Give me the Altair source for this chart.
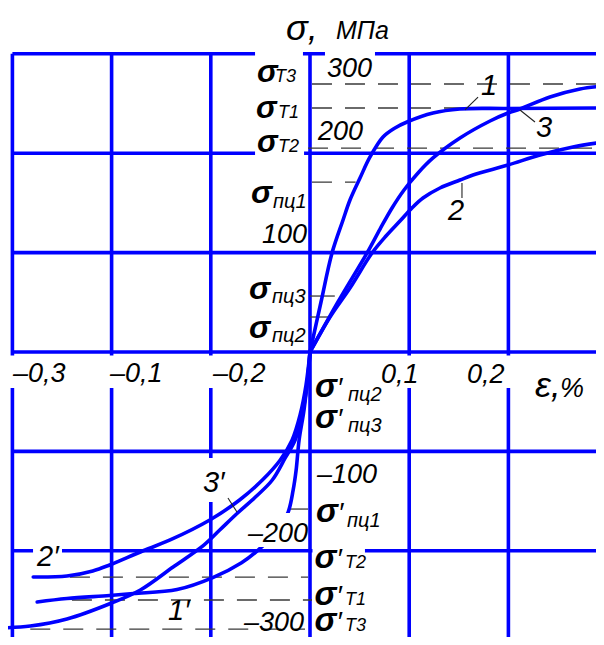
import altair as alt
import pandas as pd

BLUE = "#0000FF"
FONT = "Liberation Sans"

# ---------------- data (strain, % ; stress, MPa) ----------------
eps_1 = [0, 0.0111, 0.0222, 0.0333, 0.0403, 0.0504, 0.0605, 0.0736, 0.0857, 0.0978, 0.124, 0.151, 0.1996, 0.2964]
sig_1 = [0, 50.3, 99.6, 132.8, 152.9, 175, 196.2, 216.3, 225.4, 231.4, 240.4, 244.5, 245, 245.5]

eps_3 = [0, 0.0282, 0.0575, 0.0706, 0.0827, 0.0948, 0.1089, 0.124, 0.1512, 0.1815, 0.1996, 0.2117, 0.2419, 0.2722, 0.2964]
sig_3 = [0, 50.3, 99.6, 123.7, 144.9, 163, 180.1, 195.2, 215.3, 232.4, 240.4, 244.5, 256.5, 264.6, 267.6]

eps_2 = [0, 0.0202, 0.0403, 0.0625, 0.0766, 0.0907, 0.1028, 0.1139, 0.131, 0.1512, 0.1643, 0.1996, 0.2319, 0.2651, 0.2964]
sig_2 = [0, 35.2, 64.4, 99.6, 116.7, 131.8, 144.9, 154.9, 165, 173, 178.1, 188.1, 198.2, 206.2, 211.3]

eps_1c = [0, -0.002, -0.006, -0.011, -0.014, -0.017, -0.022, -0.032, -0.052, -0.069, -0.098, -0.134, -0.178, -0.202, -0.245, -0.275]
sig_1c = [0, -23, -58, -88.5, -119, -139, -161, -179, -199, -212, -227, -239, -243, -245, -248, -251.5]

eps_2c = [0, -0.004, -0.010, -0.018, -0.030, -0.048, -0.071, -0.101, -0.141, -0.171, -0.202, -0.219, -0.245, -0.279]
sig_2c = [0, -33.2, -63.4, -88.5, -108.6, -128.8, -148.9, -169, -189.1, -201.2, -214.3, -220.3, -225.4, -226.4]

eps_3c = [0, -0.003, -0.008, -0.015, -0.025, -0.038, -0.055, -0.073, -0.091, -0.107, -0.138, -0.171, -0.200, -0.245, -0.282, -0.3125]
sig_3c = [0, -33.2, -63.4, -88.5, -106.6, -128.8, -145.9, -162, -179.1, -194.2, -216.3, -239.4, -252.5, -268.6, -275.7, -277.7]

grid_eps = [-0.3, -0.2, -0.1, 0.0, 0.1, 0.2]
grid_sig = [300, 200, 100, 0, -100, -200]

# characteristic stress levels (reference lines)
ref_sig = [269.6, 245.5, 205.2, 171, 56.3, 35.2, -158, -226.4, -249.5, -278.7]
ref_from = [0.002, 0.002, -0.002, 0.002, 0, 0, -0.021, -0.242, -0.240, -0.282]
ref_to = [0.2964, 0.2964, 0.2964, 0.046, 0.025, 0.020, -0.002, -0.002, 0.002, -0.005]
ref_dashed = [True, True, True, True, False, False, False, True, True, True]

X_DOM = [-0.30444, 0.28831]
Y_DOM = [-286.72, 346.08]

# ---------------- tables ----------------
rows = []
for name, e, s in [("1", eps_1, sig_1), ("3", eps_3, sig_3), ("2", eps_2, sig_2),
                   ("1c", eps_1c, sig_1c), ("2c", eps_2c, sig_2c), ("3c", eps_3c, sig_3c)]:
    for i, (a, b) in enumerate(zip(e, s)):
        rows.append({"curve": name, "i": i, "eps": a, "sig": b})
curves = pd.DataFrame(rows)

vgrid = pd.DataFrame({"eps": grid_eps, "top": 300, "bottom": -400})
hgrid = pd.DataFrame({"sig": grid_sig, "left": -0.3, "right": 0.4})

refs = pd.DataFrame({"sig": ref_sig, "a": ref_from, "b": ref_to, "dashed": ref_dashed})

# white label backgrounds (x1, x2, y1, y2 in data units)
boxes = pd.DataFrame([
    (-0.0554, -0.0071, 292.7, 305.8),
    (0.0151, 0.0655, 265.6, 305.8),
    (-0.0554, -0.0060, 193.2, 203.2),
    (-0.3044, -0.2117, -36.2, -3.6),
    (-0.2067, -0.1361, -36.2, -3.6),
    (-0.1058, -0.0202, -36.2, -3.6),
    (0.0655, 0.1089, -36.2, -3.6),
    (0.1532, 0.2036, -36.2, -3.6),
    (-0.1109, -0.0847, -150.9, -106.6),
    (-0.2792, -0.2500, -217.3, -189.1),
    (0.0025, 0.0554, -218.3, -194.2),
    (0.1532, 0.1946, 256.5, 284.7),
    (-0.0685, -0.0101, -294.8, -264.6),
    (-0.1452, -0.1210, -271.6, -245.5),
], columns=["x1", "x2", "y1", "y2"])
box_over = pd.DataFrame([(-0.0655, -0.0040, -196.2, -162.0)], columns=["x1", "x2", "y1", "y2"])

leaders = pd.DataFrame([
    (0.1562, 243.5, 0.1694, 256.5),
    (0.2117, 243.5, 0.2268, 231.4),
    (0.1532, 170.0, 0.1532, 154.9),
    (-0.0827, -146.9, -0.0736, -161.0),
], columns=["x1", "y1", "x2", "y2"])

# bold sigma symbols
sig_bold = pd.DataFrame([
    ("σ", -0.0534, 271.6, 31), ("σ", -0.0544, 235.4, 31), ("σ", -0.0534, 201.2, 31),
    ("σ", -0.0595, 149.9, 32), ("σ", -0.0615, 53.3, 32), ("σ", -0.0615, 14.1, 32),
    ("σ", 0.0050, -45.3, 33), ("σ", 0.0050, -76.5, 33), ("σ", 0.0060, -171.0, 33),
    ("σ", 0.0045, -217.3, 33), ("σ", 0.0045, -254.5, 33), ("σ", 0.0045, -280.5, 33),
], columns=["t", "x", "y", "s"])

# thin italic texts
ital = pd.DataFrame([
    ("Т3", -0.0353, 271.6, 18), ("Т1", -0.0323, 235.4, 18), ("Т2", -0.0323, 201.2, 18),
    ("пц1", -0.0373, 144.9, 20), ("пц3", -0.0383, 49.3, 20), ("пц2", -0.0383, 10.1, 20),
    ("пц2", 0.0383, -49.3, 20), ("пц3", 0.0383, -80.5, 20), ("пц1", 0.0373, -176.0, 20),
    ("Т2", 0.0353, -217.3, 18), ("Т1", 0.0353, -254.5, 18), ("Т3", 0.0353, -280.5, 18),
    ("′", 0.0272, -45.3, 28), ("′", 0.0272, -76.5, 28), ("′", 0.0282, -171.0, 28),
    ("′", 0.0267, -217.3, 28), ("′", 0.0267, -254.5, 28), ("′", 0.0267, -280.5, 28),
    ("300", 0.0171, 276.7, 27), ("200", 0.0081, 213.3, 27), ("100", -0.0484, 109.7, 27),
    ("–0,3", -0.2994, -30.2, 27), ("–0,1", -0.2016, -30.2, 27), ("–0,2", -0.0978, -30.2, 27),
    ("0,1", 0.0716, -31.2, 27), ("0,2", 0.1583, -31.2, 27),
    ("–100", 0.0071, -131.8, 27), ("–200", -0.0625, -191.1, 27), ("–300", -0.0665, -281.0, 27),
    ("1", 0.1724, 258.5, 29), ("3", 0.2278, 216.3, 29), ("2", 0.1391, 132.8, 29),
    ("1′", -0.1431, -269.6, 29), ("2′", -0.2752, -215.3, 29), ("3′", -0.1079, -140.8, 29),
    ("МПа", 0.0262, 315.0, 25), ("%", 0.2520, -45.3, 27),
], columns=["t", "x", "y", "s"])

plain = pd.DataFrame([
    ("σ,", -0.0242, 313.5, 36), ("ε,", 0.2268, -45.3, 36),
], columns=["t", "x", "y", "s"])

xs = alt.Scale(domain=X_DOM, nice=False, zero=False)
ys = alt.Scale(domain=Y_DOM, nice=False, zero=False)


def X(f):
    return alt.X(f, type="quantitative", scale=xs, axis=None)


def Y(f):
    return alt.Y(f, type="quantitative", scale=ys, axis=None)


vlines = alt.Chart(vgrid).mark_rule(color=BLUE, strokeWidth=3.6, clip=True).encode(
    x=X("eps"), y=Y("top"), y2=alt.Y2("bottom"))
hlines = alt.Chart(hgrid).mark_rule(color=BLUE, strokeWidth=3.6, clip=True).encode(
    y=Y("sig"), x=X("left"), x2=alt.X2("right"))

bg = alt.Chart(boxes).mark_rect(color="white", clip=True).encode(
    x=X("x1"), x2=alt.X2("x2"), y=Y("y1"), y2=alt.Y2("y2"))

dashed = alt.Chart(refs[refs.dashed]).mark_rule(color="#3a3a3a", strokeWidth=1.3, strokeDash=[20, 13], clip=True).encode(
    y=Y("sig"), x=X("a"), x2=alt.X2("b"))
solid = alt.Chart(refs[~refs.dashed]).mark_rule(color="#3a3a3a", strokeWidth=1.3, clip=True).encode(
    y=Y("sig"), x=X("a"), x2=alt.X2("b"))

lines = alt.Chart(curves).mark_line(color=BLUE, strokeWidth=3.6, clip=True, interpolate="catmull-rom",
                                    strokeJoin="round", strokeCap="round").encode(
    x=X("eps"), y=Y("sig"), detail="curve:N", order="i:Q")

fg = alt.Chart(box_over).mark_rect(color="white").encode(
    x=X("x1"), x2=alt.X2("x2"), y=Y("y1"), y2=alt.Y2("y2"))

lead = alt.Chart(leaders).mark_rule(color="#222", strokeWidth=1.1).encode(
    x=X("x1"), y=Y("y1"), x2=alt.X2("x2"), y2=alt.Y2("y2"))

t_bold = alt.Chart(sig_bold).mark_text(align="left", baseline="alphabetic", font=FONT,
                                       fontStyle="italic", fontWeight="bold", color="black").encode(
    x=X("x"), y=Y("y"), text="t:N", size=alt.Size("s:Q", scale=None))
t_ital = alt.Chart(ital).mark_text(align="left", baseline="alphabetic", font=FONT,
                                   fontStyle="italic", color="black").encode(
    x=X("x"), y=Y("y"), text="t:N", size=alt.Size("s:Q", scale=None))
t_plain = alt.Chart(plain).mark_text(align="left", baseline="alphabetic", font=FONT,
                                     fontStyle="italic", color="black").encode(
    x=X("x"), y=Y("y"), text="t:N", size=alt.Size("s:Q", scale=None))

chart = alt.layer(vlines, hlines, bg, dashed, solid, lines, fg, lead, t_bold, t_ital, t_plain).properties(
    width=588, height=629, padding=0, background="white",
    autosize=alt.AutoSizeParams(type="none"),
).configure_view(stroke=None)

chart.save("out.html", embed_options={"renderer": "svg", "actions": False})
